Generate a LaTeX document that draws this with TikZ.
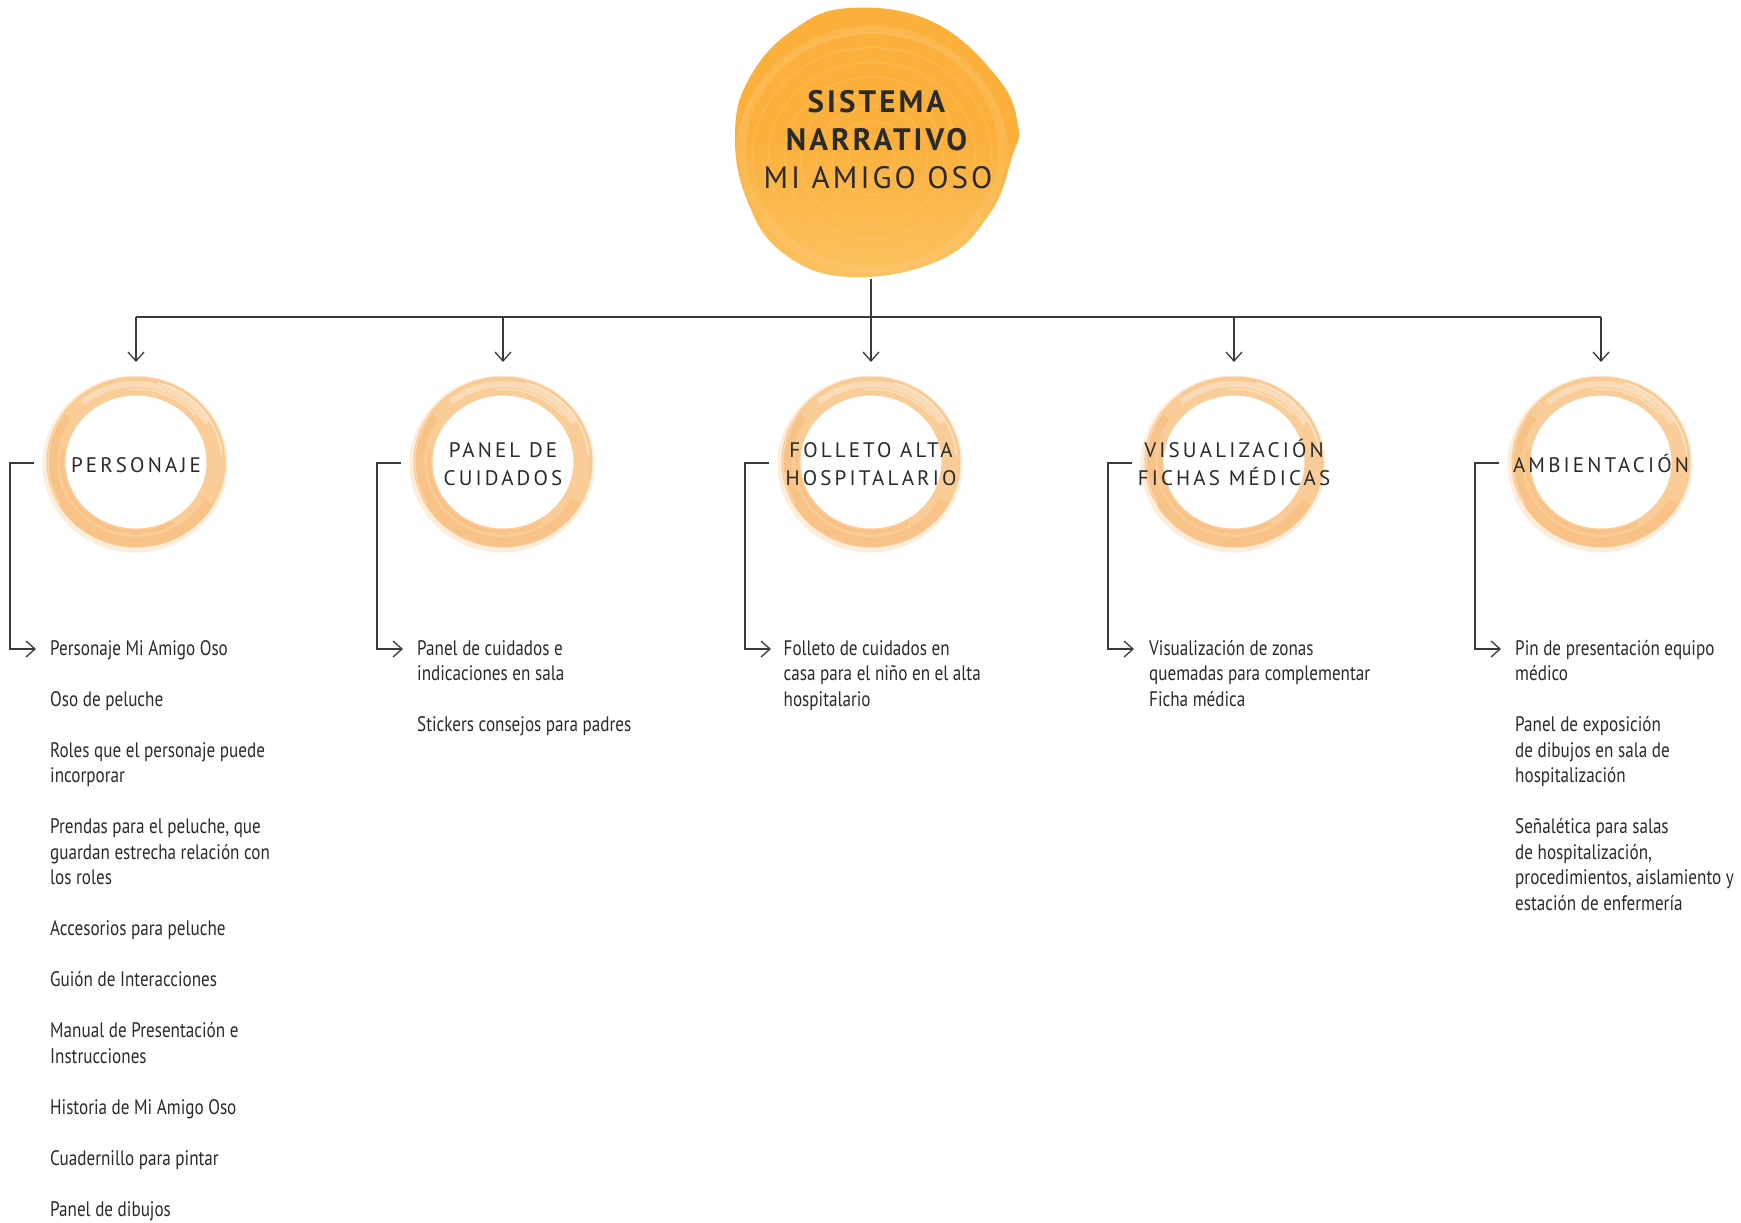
\documentclass[tikz,border=0pt]{standalone}
\usepackage{fontspec}
\setmainfont{PT Sans}
\newfontfamily\narrowfont[FakeStretch=0.815]{PT Sans}
\newfontfamily\capsfont[LetterSpace=15]{PT Sans}
\newfontfamily\titlefont[LetterSpace=10]{PT Sans}
\usetikzlibrary{arrows.meta}

\definecolor{inkC}{HTML}{2A2A2A}
\definecolor{lineC}{HTML}{3A3A3A}
\definecolor{blobC}{HTML}{FBB03C}
\definecolor{blobB}{HTML}{FCC260}
\definecolor{blobL}{HTML}{FDCB7A}
\definecolor{ringC}{HTML}{F9C486}
\definecolor{ringD}{HTML}{F7B46C}

% invisible struts that fix the top of every text block above its first baseline
\newcommand\lnstrut{\rule{0pt}{20pt}}
\newcommand\hdstrut{\rule{0pt}{24pt}}
\newcommand\ttstrut{\rule{0pt}{30pt}}

\begin{document}
\begin{tikzpicture}[x=1pt,y=-1pt,
  link/.style={draw=lineC, line width=1.3pt},
  barb/.style={-{Straight Barb[length=9pt,width=16pt]}},
  heading/.style={inner sep=0pt, anchor=north, align=center, text=inkC,
    font=\capsfont\fontsize{21}{28}\selectfont},
  item/.style={inner sep=0pt, anchor=north west, align=left, text=inkC,
    font=\narrowfont\fontsize{21}{25.5}\selectfont},
  brushring/.pic={
    % main brush stroke
    \draw[ringC, line width=19pt, opacity=0.85] (0,0) ellipse [x radius=80, y radius=76];
    % feathered outer edge
    \draw[ringC, line width=5pt, opacity=0.3] (-1,2) ellipse [x radius=90, y radius=86];
    % heavier paint along the bottom and left
    \draw[ringD, line width=10pt, opacity=0.35]
      (30:84 and 80) arc[start angle=30, end angle=215, x radius=84, y radius=80];
    \draw[ringD, line width=4pt, opacity=0.35]
      (60:74 and 70) arc[start angle=60, end angle=190, x radius=74, y radius=70];
    % dry-brush streaks across the top
    \draw[white, line width=6pt, opacity=0.3]
      (-130:82 and 78) arc[start angle=-130, end angle=-30, x radius=82, y radius=78];
    \draw[white, line width=1.3pt, opacity=0.6]
      (-75:86 and 82) arc[start angle=-75, end angle=-5, x radius=86, y radius=82];
    \draw[white, line width=1pt, opacity=0.5]
      (-95:77 and 73) arc[start angle=-95, end angle=-40, x radius=77, y radius=73];
    \draw[white, line width=1pt, opacity=0.45]
      (150:88 and 84) arc[start angle=150, end angle=215, x radius=88, y radius=84];
  }]
\useasboundingbox (0,0) rectangle (1741,1223);

% central painted blob
\def\blobpath{plot[smooth cycle, tension=0.7] coordinates {
  (850,8) (933,22) (997,77) (1018,125) (1012,157) (990,213) (940,260)
  (850,277) (783,253) (747,200) (735,133) (750,77) (793,30)}}
\begin{scope}
  \clip \blobpath;
  \shade[top color=blobC, bottom color=blobB, middle color=blobC] (730,0) rectangle (1025,280);
  \foreach \r in {24,40,56,72,88,104,120,136}
    \draw[blobL, line width=1.4pt, opacity=0.3] (872,158) ellipse [x radius=\r, y radius=0.92*\r];
  \draw[blobL, line width=8pt, opacity=0.3] (872,150) ellipse [x radius=130, y radius=120];
\end{scope}

\node[inner sep=0pt, anchor=north, align=center, text=inkC,
      font=\titlefont\fontsize{31}{38}\selectfont] (title) at (878,82)
  {\ttstrut\textbf{SISTEMA}\\\textbf{NARRATIVO}\\MI AMIGO OSO};

% rings behind the branch headings
\foreach \cx in {136,503,871,1234,1601}
  \pic at (\cx,462) {brushring};

% headings
\node[heading] (h1) at (136,448)  {\hdstrut PERSONAJE};
\node[heading] (h2) at (503,433)  {\hdstrut PANEL DE\\CUIDADOS};
\node[heading] (h3) at (871,433)  {\hdstrut FOLLETO ALTA\\HOSPITALARIO};
\node[heading] (h4) at (1234,433) {\hdstrut VISUALIZACIÓN\\FICHAS MÉDICAS};
\node[heading] (h5) at (1601,448) {\hdstrut AMBIENTACIÓN};

% tree from the centre to the five branches
\coordinate (top) at (871,279);
\coordinate (hub) at (871,317);
\foreach \i/\cx in {1/136,2/503,3/871,4/1234,5/1601} {
  \coordinate (t\i) at (\cx,317);
  \coordinate (a\i) at (\cx,362);
  \coordinate (s\i) at (\cx-102,463);
  \coordinate (e\i) at (\cx-100,649);
}
\draw[link] (top) -- (hub);
\draw[link] (t1) -- (t5);
\foreach \i in {1,...,5} {
  \draw[link,barb] (t\i) -- (a\i);
  \draw[link,barb] (s\i) -- ++(-24,0) |- (e\i);
}

% PERSONAJE
\node[item] (p1)  at (50,635)   {\lnstrut Personaje Mi Amigo Oso};
\node[item] (p2)  at (50,686)   {\lnstrut Oso de peluche};
\node[item] (p3)  at (50,737)   {\lnstrut Roles que el personaje puede\\incorporar};
\node[item] (p4)  at (50,813.5) {\lnstrut Prendas para el peluche, que\\guardan estrecha relación con\\los roles};
\node[item] (p5)  at (50,915.5) {\lnstrut Accesorios para peluche};
\node[item] (p6)  at (50,966.5) {\lnstrut Guión de Interacciones};
\node[item] (p7)  at (50,1017.5){\lnstrut Manual de Presentación e\\Instrucciones};
\node[item] (p8)  at (50,1094)  {\lnstrut Historia de Mi Amigo Oso};
\node[item] (p9)  at (50,1145)  {\lnstrut Cuadernillo para pintar};
\node[item] (p10) at (50,1196)  {\lnstrut Panel de dibujos};

% PANEL DE CUIDADOS
\node[item] (c1) at (417,635)   {\lnstrut Panel de cuidados e\\indicaciones en sala};
\node[item] (c2) at (417,711.5) {\lnstrut Stickers consejos para padres};

% FOLLETO ALTA HOSPITALARIO
\node[item] (f1) at (783.5,635) {\lnstrut Folleto de cuidados en\\casa para el niño en el alta\\hospitalario};

% VISUALIZACION FICHAS MEDICAS
\node[item] (v1) at (1149,635)  {\lnstrut Visualización de zonas\\quemadas para complementar\\Ficha médica};

% AMBIENTACION
\node[item] (m1) at (1515,635)   {\lnstrut Pin de presentación equipo\\médico};
\node[item] (m2) at (1515,711.5) {\lnstrut Panel de exposición\\de dibujos en sala de\\hospitalización};
\node[item] (m3) at (1515,813.5) {\lnstrut Señalética para salas\\de hospitalización,\\procedimientos, aislamiento y\\estación de enfermería};
\end{tikzpicture}
\end{document}
